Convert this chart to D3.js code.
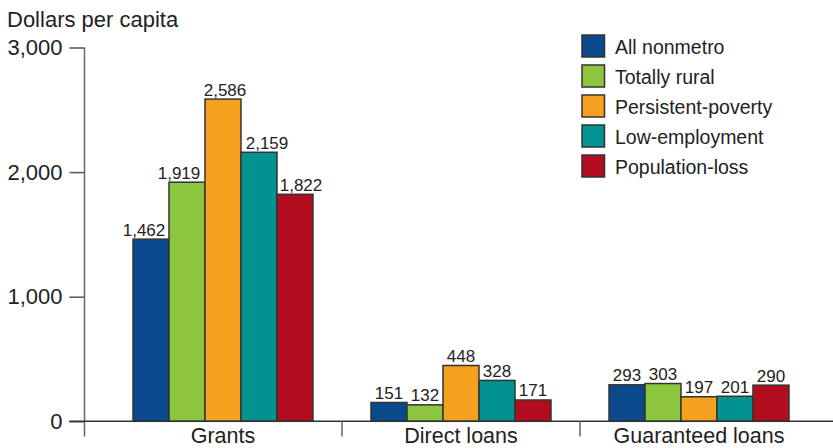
<!DOCTYPE html>
<html><head><meta charset="utf-8">
<script src="https://cdn.jsdelivr.net/npm/d3@7"></script>
<style>body{margin:0;background:#fff}svg{display:block}text{font-family:"Liberation Sans",Arial,Helvetica,sans-serif;fill:#222}</style>
</head><body><svg id="c" width="833" height="448"></svg>
<script>
const categories = ["Grants", "Direct loans", "Guaranteed loans"];
const seriesNames = ["All nonmetro", "Totally rural", "Persistent-poverty", "Low-employment", "Population-loss"];
const seriesColors = ["#0a4a8c", "#8cc63f", "#f5a01e", "#00938f", "#b20d1e"];
const allNonmetro = [1462, 151, 293];
const totallyRural = [1919, 132, 303];
const persistentPoverty = [2586, 448, 197];
const lowEmployment = [2159, 328, 201];
const populationLoss = [1822, 171, 290];
const yTicks = [0, 1000, 2000, 3000];
const yTitle = "Dollars per capita";

const seriesValues = [allNonmetro, totallyRural, persistentPoverty, lowEmployment, populationLoss];
const svg = d3.select("#c");
const fmt = d3.format(",");

const y = d3.scaleLinear().domain([0, 3000]).range([421.3, 47.5]);
const x0 = d3.scaleBand().domain(categories).range([104, 818]).padding(0);
const x1 = d3.scaleBand().domain(seriesNames).range([0, x0.bandwidth()]).paddingInner(0).paddingOuter(0.806);

// y axis
const axisX = 84.5;
const yAxis = d3.axisLeft(y).tickValues(yTicks).tickFormat(fmt).tickSize(15).tickPadding(7);
const ga = svg.append("g").attr("transform", `translate(${axisX},0)`).call(yAxis);
ga.select(".domain").remove();
ga.selectAll(".tick line").attr("stroke", "#555").attr("stroke-width", 1.5);
ga.selectAll(".tick text").attr("font-size", "22px").attr("fill", "#222").attr("font-family", "Liberation Sans, Arial, sans-serif");
svg.append("line").attr("x1", axisX).attr("x2", axisX).attr("y1", y(3000)).attr("y2", 436.5).attr("stroke", "#666").attr("stroke-width", 1.5);

// title
svg.append("text").attr("x", 7).attr("y", 27).attr("font-size", "22px").text(yTitle);

// bars
const labelShift = [[-7, 0, 0], [-8, 0, 0], [2, 0, 0], [8, 0, 0], [6, 0, 0]];
const groups = svg.selectAll("g.grp").data(categories).join("g").attr("class", "grp")
  .attr("transform", d => `translate(${x0(d)},0)`);
groups.each(function(cat, ci) {
  const g = d3.select(this);
  seriesNames.forEach((s, si) => {
    const v = seriesValues[si][ci];
    g.append("rect").attr("x", x1(s)).attr("width", x1.bandwidth())
      .attr("y", y(v)).attr("height", y(0) - y(v))
      .attr("fill", seriesColors[si]).attr("stroke", "#333").attr("stroke-width", 1.5);
    g.append("text").attr("x", x1(s) + x1.bandwidth() / 2 + labelShift[si][ci]).attr("y", y(v) - 3.5)
      .attr("text-anchor", "middle").attr("font-size", "17px").text(fmt(v));
  });
});

// baseline
svg.append("line").attr("x1", 69).attr("x2", 833).attr("y1", y(0)).attr("y2", y(0)).attr("stroke", "#333").attr("stroke-width", 1.5);

// dividers
categories.slice(1).forEach(c => {
  svg.append("line").attr("x1", x0(c)).attr("x2", x0(c)).attr("y1", y(0)).attr("y2", 436.5).attr("stroke", "#666").attr("stroke-width", 1.5);
});

// category labels
svg.selectAll("text.cat").data(categories).join("text").attr("class", "cat")
  .attr("x", d => x0(d) + x0.bandwidth() / 2).attr("y", 443)
  .attr("text-anchor", "middle").attr("font-size", "21.5px").text(d => d);

// legend
const lg = svg.append("g");
seriesNames.forEach((s, i) => {
  const yy = 35 + i * 30;
  lg.append("rect").attr("x", 582).attr("y", yy).attr("width", 22.5).attr("height", 22)
    .attr("fill", seriesColors[i]).attr("stroke", "#333").attr("stroke-width", 1.5);
  lg.append("text").attr("x", 615).attr("y", yy + 19).attr("font-size", "19.5px").text(s);
});
</script></body></html>
